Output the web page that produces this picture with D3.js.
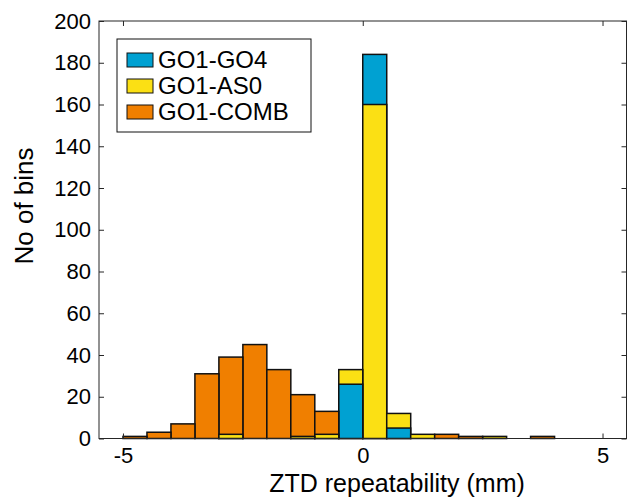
<!DOCTYPE html>
<html>
<head>
<meta charset="utf-8">
<script src="https://cdn.jsdelivr.net/npm/d3@7"></script>
<style>
  body { margin: 0; background: white; }
  text { font-family: "Liberation Sans", Arial, sans-serif; fill: #000; }
</style>
</head>
<body>
<div id="paper"></div>
<script>

// histogram bins (left edge, width 0.5 mm) and counts per series.

const binStart = [-5, -4.5, -4, -3.5, -3, -2.5, -2, -1.5, -1, -0.5, 0, 0.5, 1, 1.5, 2, 2.5, 3, 3.5]
const binWidth = 0.5
const go4  = [0, 0, 0, 0, 0, 0, 0, 0, 0, 26, 184, 5, 0, 0, 0, 0, 0, 0]
const as0  = [0, 0, 0, 0, 2, 0, 0, 1, 2, 33, 160, 12, 2, 0, 0, 1, 0, 0]
const comb = [1, 3, 7, 31, 39, 45, 33, 21, 13, 0, 0, 0, 0, 2, 1, 0, 0, 1]

const seriesNames = ["GO1-GO4", "GO1-AS0", "GO1-COMB"]
const seriesColors = ["#00a1d2", "#fbe014", "#f07f00"]
const seriesValues = [go4, as0, comb]

const xTicks = [-5, 0, 5]
const yTicks = [0, 20, 40, 60, 80, 100, 120, 140, 160, 180, 200]

// canvas and scales.

const svg = d3.select("#paper")
    .append("svg")
    .attr("id", "canvas")
    .attr("width", 627)
    .attr("height", 498)

const plotLeft = 99, plotRight = 626.5, plotTop = 21, plotBottom = 438.5

const x = d3.scaleLinear().domain([-5.5, 5.5]).range([plotLeft, plotRight])
const y = d3.scaleLinear().domain([0, 200]).range([plotBottom, plotTop])

// bars: within each bin the smaller bar sits in front, so draw tallest first.

let bars = []
seriesValues.forEach((vals, s) => {
    vals.forEach((v, i) => {
        if (v > 0) bars.push({ start: binStart[i], value: v, s: s })
    })
})
bars.sort((a, b) => b.value - a.value)

svg.selectAll(".bar")
    .data(bars)
    .join("rect")
    .attr("class", "bar")
    .attr("x", d => x(d.start))
    .attr("y", d => y(d.value))
    .attr("width", d => x(d.start + binWidth) - x(d.start))
    .attr("height", d => y(0) - y(d.value))
    .style("fill", d => seriesColors[d.s])
    .style("stroke", "#111")
    .style("stroke-width", 1.5)

// axes box with inward ticks on all four sides.

const axisColor = "#262626"
const tickLen = 5

svg.append("rect")
    .attr("x", plotLeft).attr("y", plotTop)
    .attr("width", plotRight - plotLeft).attr("height", plotBottom - plotTop)
    .style("fill", "none").style("stroke", axisColor).style("stroke-width", 1)

const gx = svg.append("g").attr("transform", `translate(0, ${plotBottom})`)
    .call(d3.axisBottom(x).tickValues(xTicks).tickSize(-tickLen).tickPadding(9).tickFormat(d3.format("d")))
const gxTop = svg.append("g").attr("transform", `translate(0, ${plotTop})`)
    .call(d3.axisTop(x).tickValues(xTicks).tickSize(-tickLen).tickFormat(""))
const gy = svg.append("g").attr("transform", `translate(${plotLeft}, 0)`)
    .call(d3.axisLeft(y).tickValues(yTicks).tickSize(-tickLen).tickPadding(8))
const gyRight = svg.append("g").attr("transform", `translate(${plotRight}, 0)`)
    .call(d3.axisRight(y).tickValues(yTicks).tickSize(-tickLen).tickFormat(""))

svg.selectAll(".domain").remove()
svg.selectAll(".tick line").style("stroke", axisColor)
svg.selectAll(".tick text")
    .style("font-family", '"Liberation Sans", Arial, sans-serif')
    .style("font-size", "22px")
    .style("fill", "#000")
gx.selectAll(".tick text").text(d => d < 0 ? "-" + Math.abs(d) : d)

// axis labels.

svg.append("text")
    .attr("x", 397)
    .attr("y", 492)
    .attr("text-anchor", "middle")
    .style("font-size", "25px")
    .text("ZTD repeatability (mm)")

svg.append("text")
    .attr("transform", "translate(33, 206) rotate(-90)")
    .attr("text-anchor", "middle")
    .style("font-size", "26px")
    .text("No of bins")

// legend.

const legend = svg.append("g")

legend.append("rect")
    .attr("x", 117).attr("y", 39)
    .attr("width", 194).attr("height", 93)
    .style("fill", "white").style("stroke", "#111").style("stroke-width", 1)

const rowY = [60, 86, 112]

legend.selectAll(".swatch")
    .data(seriesNames)
    .join("rect")
    .attr("class", "swatch")
    .attr("x", 127)
    .attr("y", (d, i) => rowY[i] - 7)
    .attr("width", 26)
    .attr("height", 14)
    .style("fill", (d, i) => seriesColors[i])
    .style("stroke", "#111")
    .style("stroke-width", 1)

legend.selectAll(".legend_text")
    .data(seriesNames)
    .join("text")
    .attr("class", "legend_text")
    .attr("x", 158)
    .attr("y", (d, i) => rowY[i])
    .attr("dy", "0.35em")
    .style("font-size", "24px")
    .text(d => d)

</script>
</body>
</html>
